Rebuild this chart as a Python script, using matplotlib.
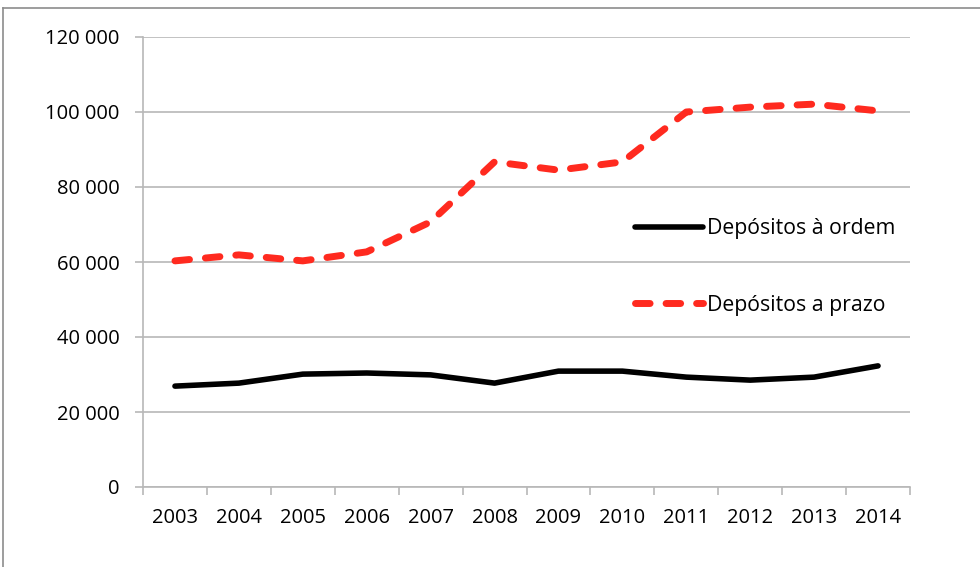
import numpy as np
import matplotlib
matplotlib.use("Agg")
import matplotlib.pyplot as plt
from matplotlib.lines import Line2D
from matplotlib.ticker import FuncFormatter

# Data
years = ['2003', '2004', '2005', '2006', '2007', '2008',
         '2009', '2010', '2011', '2012', '2013', '2014']
ordem = [26900, 27700, 30100, 30400, 29900, 27700,
         30900, 30900, 29300, 28500, 29300, 32300]
prazo = [60300, 61900, 60300, 62700, 70700, 86700,
         84500, 86700, 100000, 101300, 102100, 100300]
yticks = [0, 20000, 40000, 60000, 80000, 100000, 120000]

plt.rcParams['font.family'] = ['Open Sans', 'DejaVu Sans']

W, H = 980, 567
fig = plt.figure(figsize=(W/100, H/100), dpi=100)
ax = fig.add_axes([143/W, 1-487/H, (910-143)/W, (487-37)/H])

grey = '#b8b8b8'
x = np.arange(len(years))

ax.plot(x, ordem, color='black', lw=4.0, solid_capstyle='round',
        solid_joinstyle='round', label='Depósitos à ordem', zorder=3)
ax.plot(x, prazo, color='#ff2a1f', lw=5.0, dashes=(2.1, 2.3),
        dash_capstyle='round', dash_joinstyle='round',
        label='Depósitos a prazo', zorder=3)

ax.set_xlim(-0.5, len(years)-0.5)
ax.set_ylim(0, 120000)

# y axis
ax.set_yticks(yticks)
ax.yaxis.set_major_formatter(FuncFormatter(lambda v, p: f'{int(v):,}'.replace(',', ' ')))
ax.grid(axis='y', color=grey, lw=1.2, zorder=0)
ax.tick_params(axis='y', length=6, width=1.2, color=grey, pad=11, labelsize=14.5)

# x axis: ticks at category boundaries, labels at centres
ax.set_xticks(np.arange(len(years)+1)-0.5)
ax.set_xticklabels([])
ax.set_xticks(x, minor=True)
ax.set_xticklabels(years, minor=True)
ax.tick_params(axis='x', which='major', length=6, width=1.2, color=grey, direction='out')
ax.tick_params(axis='x', which='minor', length=0, pad=15, labelsize=14.5)

for s in ('top', 'right'):
    ax.spines[s].set_visible(False)
for s in ('left', 'bottom'):
    ax.spines[s].set_color(grey)
    ax.spines[s].set_linewidth(1.2)

ax.legend(loc='center left', bbox_to_anchor=(635/W, 1-267/H),
          bbox_transform=fig.transFigure, frameon=False, fontsize=15.3,
          handlelength=3.2, handletextpad=0.2, labelspacing=2.6,
          borderpad=0, borderaxespad=0)

# chart frame (cropped from a larger chart)
fig.add_artist(Line2D([3/W, 1], [1-8/H, 1-8/H], transform=fig.transFigure, color='#8c8c8c', lw=1.2))
fig.add_artist(Line2D([3/W, 3/W], [0, 1-8/H], transform=fig.transFigure, color='#8c8c8c', lw=1.2))

fig.savefig('out.png', dpi=100)
